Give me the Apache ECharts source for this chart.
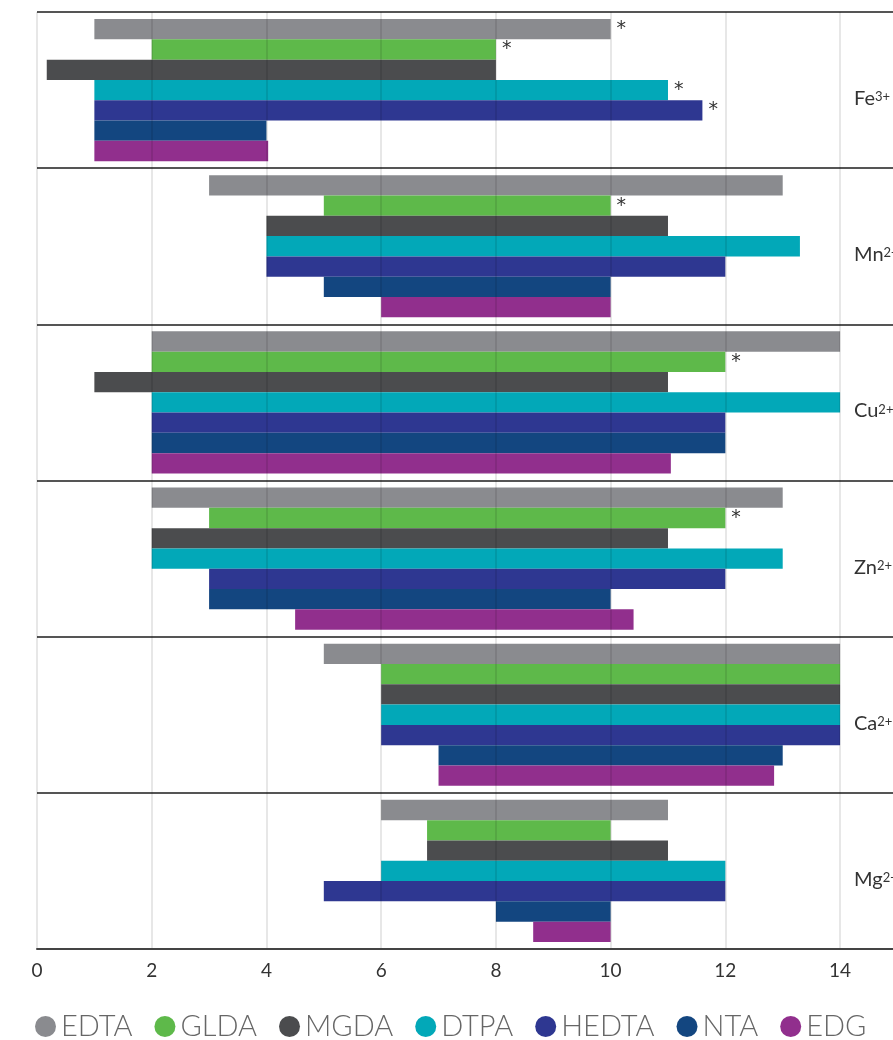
<!DOCTYPE html>
<html>
<head>
<meta charset="utf-8">
<script src="https://cdn.jsdelivr.net/npm/echarts@6/dist/echarts.min.js"></script>
<style>html,body{margin:0;padding:0;background:#fff;overflow:hidden}#c{width:893px;height:1040px}</style>
</head>
<body>
<div id="c"></div>
<script>
const ions = ['Fe3+', 'Mn2+', 'Cu2+', 'Zn2+', 'Ca2+', 'Mg2+'];
const seriesNames = ['EDTA', 'GLDA', 'MGDA', 'DTPA', 'HEDTA', 'NTA', 'EDG'];
const colors = ['#8a8b8f', '#5eb94a', '#4b4c4e', '#02a8b8', '#2e3791', '#134680', '#912f8d'];
const xTicks = [0, 2, 4, 6, 8, 10, 12, 14];

// range start / end per ion (Fe, Mn, Cu, Zn, Ca, Mg)
const EDTA_start  = [1, 3, 2, 2, 5, 6];
const EDTA_end    = [10, 13, 14, 13, 14, 11];
const GLDA_start  = [2, 5, 2, 3, 6, 6.8];
const GLDA_end    = [8, 10, 12, 12, 14, 10];
const MGDA_start  = [0.17, 4, 1, 2, 6, 6.8];
const MGDA_end    = [8, 11, 11, 11, 14, 11];
const DTPA_start  = [1, 4, 2, 2, 6, 6];
const DTPA_end    = [11, 13.3, 14, 13, 14, 12];
const HEDTA_start = [1, 4, 2, 3, 6, 5];
const HEDTA_end   = [11.6, 12, 12, 12, 14, 12];
const NTA_start   = [1, 5, 2, 3, 7, 8];
const NTA_end     = [4, 10, 12, 10, 13, 10];
const EDG_start   = [1, 6, 2, 4.5, 7, 8.65];
const EDG_end     = [4.03, 10, 11.05, 10.4, 12.85, 10];

// asterisk flags
const EDTA_star  = [1, 0, 0, 0, 0, 0];
const GLDA_star  = [1, 1, 1, 1, 0, 0];
const MGDA_star  = [0, 0, 0, 0, 0, 0];
const DTPA_star  = [1, 0, 0, 0, 0, 0];
const HEDTA_star = [1, 0, 0, 0, 0, 0];
const NTA_star   = [0, 0, 0, 0, 0, 0];
const EDG_star   = [0, 0, 0, 0, 0, 0];

const starts = [EDTA_start, GLDA_start, MGDA_start, DTPA_start, HEDTA_start, NTA_start, EDG_start];
const ends = [EDTA_end, GLDA_end, MGDA_end, DTPA_end, HEDTA_end, NTA_end, EDG_end];
const stars = [EDTA_star, GLDA_star, MGDA_star, DTPA_star, HEDTA_star, NTA_star, EDG_star];

const series = [];
seriesNames.forEach((name, i) => {
  series.push({
    name: '_base' + i, type: 'bar', stack: 's' + i, silent: true,
    itemStyle: { color: 'rgba(0,0,0,0)' },
    barGap: '0%', barCategoryGap: '9%',
    data: starts[i]
  });
  series.push({
    name: name, type: 'bar', stack: 's' + i,
    itemStyle: { color: colors[i] },
    barGap: '0%', barCategoryGap: '9%',
    label: {
      show: true, position: 'right', distance: 6,
      color: '#333', fontSize: 19, fontFamily: 'DejaVu Sans',
      formatter: p => stars[i][p.dataIndex] ? '*' : ''
    },
    data: ends[i].map((e, k) => +(e - starts[i][k]).toFixed(3))
  });
});

const chart = echarts.init(document.getElementById('c'));
chart.setOption({
  animation: false,
  color: colors,
  grid: { left: 37, top: 12, right: -3, bottom: 91, containLabel: false, outerBoundsMode: 'none' },
  legend: {
    data: seriesNames, left: 30, top: 1007, icon: 'circle',
    itemWidth: 21, itemHeight: 21, itemGap: 22,
    textStyle: { fontSize: 29, fontFamily: 'Lato', fontWeight: 300, color: '#666' }
  },
  xAxis: {
    type: 'value', min: 0, max: 14.975, interval: 2, z: 5,
    axisLine: { show: true, onZero: false, lineStyle: { color: '#444', width: 2 } },
    axisTick: { show: false },
    splitLine: { show: true, lineStyle: { color: 'rgba(0,0,0,0.13)', width: 1.5 } },
    axisLabel: {
      margin: 12, fontSize: 19, color: '#333', fontFamily: 'Lato',
      showMaxLabel: false,
      formatter: v => xTicks.indexOf(v) >= 0 ? String(v) : ''
    }
  },
  yAxis: {
    type: 'category', data: ions, inverse: true, position: 'right', offset: -42,
    axisLine: { show: false }, axisTick: { show: false },
    splitLine: { show: true, lineStyle: { color: '#555', width: 2 } },
    axisLabel: {
      margin: 0, padding: [13, 0, 0, 0],
      formatter: v => { const m = v.match(/^([A-Za-z]+)(.*)$/); return '{b|' + m[1] + '}{s|' + m[2] + '}'; },
      rich: {
        b: { fontSize: 20, color: '#333', fontFamily: 'Lato', lineHeight: 24, verticalAlign: 'bottom' },
        s: { fontSize: 13, color: '#333', fontFamily: 'Lato', lineHeight: 24, verticalAlign: 'bottom', padding: [0, 0, 5, 0] }
      }
    }
  },
  series: series
});
</script>
</body>
</html>
